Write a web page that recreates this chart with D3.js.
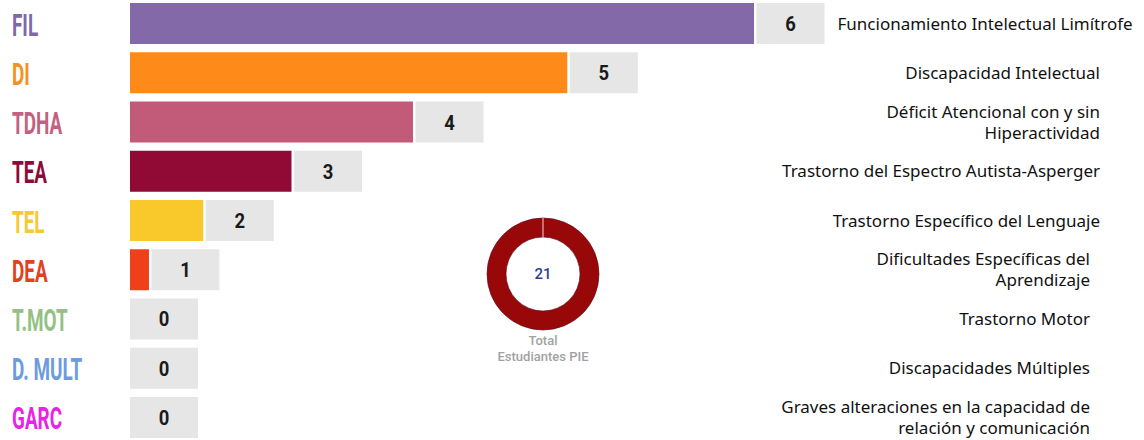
<!DOCTYPE html>
<html>
<head>
<meta charset="utf-8">
<script src="https://cdn.jsdelivr.net/npm/d3@7"></script>
<style>
  html, body { margin: 0; padding: 0; background: #ffffff; }
  svg { display: block; }
</style>
</head>
<body>
<svg id="chart" width="1144" height="440"></svg>
<script>
// Short codes, counts and full names for each PIE diagnosis
const codes = ["FIL", "DI", "TDHA", "TEA", "TEL", "DEA", "T.MOT", "D. MULT", "GARC"];
const counts = [6, 5, 4, 3, 2, 1, 0, 0, 0];
const names = [
  ["Funcionamiento Intelectual Limítrofe"],
  ["Discapacidad Intelectual"],
  ["Déficit Atencional con y sin", "Hiperactividad"],
  ["Trastorno del Espectro Autista-Asperger"],
  ["Trastorno Específico del Lenguaje"],
  ["Dificultades Específicas del", "Aprendizaje"],
  ["Trastorno Motor"],
  ["Discapacidades Múltiples"],
  ["Graves alteraciones en la capacidad de", "relación y comunicación"]
];
const codeColors = ["#8167a9", "#f7901e", "#c2617f", "#8e0b38", "#f6c934", "#e2401f", "#93c184", "#6c9be0", "#e623e6"];
const barColors  = ["#8469a8", "#fe8a1a", "#c25a7a", "#900a35", "#f9c92c", "#f0401a", "#93c184", "#6c9be0", "#e623e6"];
const totalLabel = ["Total", "Estudiantes PIE"];

const svg = d3.select("#chart");

const barLeft = 130;
const boxW = 68;

const y = d3.scaleBand()
  .domain(codes)
  .range([3, 438])
  .paddingInner(0.1675)
  .paddingOuter(0);

const x = d3.scalePow()
  .exponent(1.95)
  .domain([0, d3.max(counts)])
  .range([0, 624]);

const rows = codes.map((c, i) => ({ code: c, value: counts[i], name: names[i], i }));

const row = svg.selectAll("g.row")
  .data(rows)
  .join("g")
  .attr("class", "row")
  .attr("transform", d => `translate(0,${y(d.code)})`);

const bh = y.bandwidth();

// coloured bar
row.append("rect")
  .attr("x", barLeft)
  .attr("y", 0)
  .attr("width", d => x(d.value))
  .attr("height", bh)
  .attr("fill", d => barColors[d.i]);

// grey value box following the bar
const boxX = d => barLeft + x(d.value) + (d.value > 0 ? 2.5 : 0);
row.append("rect")
  .attr("x", boxX)
  .attr("y", 0)
  .attr("width", boxW)
  .attr("height", bh)
  .attr("fill", "#e6e6e6");

row.append("text")
  .attr("transform", d => `translate(${boxX(d) + boxW / 2},${bh / 2 + 7.5}) scale(0.9,1)`)
  .attr("text-anchor", "middle")
  .attr("font-family", "Roboto, 'DejaVu Sans', sans-serif")
  .attr("font-weight", 700)
  .attr("font-size", 20.5)
  .attr("fill", "#1a1a1a")
  .text(d => d.value);

// condensed code labels on the left
row.append("text")
  .attr("transform", `translate(12,${bh / 2 + 12}) scale(0.61,1)`)
  .attr("font-family", "Roboto, 'Liberation Sans', sans-serif")
  .attr("font-weight", 700)
  .attr("font-size", 31)
  .attr("fill", d => codeColors[d.i])
  .text(d => d.code);

// full diagnosis names on the right
const nameText = row.append("text")
  .attr("font-family", "'Comic Sans MS', 'Noto Sans', sans-serif")
  .attr("font-size", 17)
  .attr("fill", "#111")
  .attr("text-anchor", d => d.i === 0 ? "start" : "end")
  .attr("x", d => d.i === 0 ? boxX(d) + boxW + 13 : (d.i < 5 ? 1100 : 1090));

nameText.selectAll("tspan")
  .data(d => d.name.map((t, k) => ({ t, k, n: d.name.length })))
  .join("tspan")
  .attr("x", function() { return this.parentNode.getAttribute("x"); })
  .attr("y", d => bh / 2 + (d.k - (d.n - 1) / 2) * 21)
  .attr("dy", "0.36em")
  .text(d => d.t);

// total donut
const total = d3.sum(counts);
const cx = 543, cy = 274;
const arc = d3.arc().innerRadius(37).outerRadius(56);
const pie = d3.pie().sort(null)([total]);

const donut = svg.append("g").attr("transform", `translate(${cx},${cy})`);
donut.selectAll("path")
  .data(pie)
  .join("path")
  .attr("d", arc)
  .attr("fill", "#980808")
  .attr("stroke", "#5a0a2a")
  .attr("stroke-width", 0.6);

donut.append("line")
  .attr("x1", 0).attr("x2", 0)
  .attr("y1", -37).attr("y2", -56)
  .attr("stroke", "#f2d8d8")
  .attr("stroke-width", 1);

donut.append("text")
  .attr("text-anchor", "middle")
  .attr("dy", "0.36em")
  .attr("font-family", "Roboto, sans-serif")
  .attr("font-weight", 500)
  .attr("font-size", 15)
  .attr("fill", "#2c3f8f")
  .text(total);

svg.append("text")
  .attr("text-anchor", "middle")
  .attr("font-family", "Roboto, sans-serif")
  .attr("font-weight", 500)
  .attr("font-size", 13)
  .attr("fill", "#a2a2a2")
  .selectAll("tspan")
  .data(totalLabel)
  .join("tspan")
  .attr("x", cx)
  .attr("y", (d, k) => 345 + k * 16)
  .text(d => d);
</script>
</body>
</html>
